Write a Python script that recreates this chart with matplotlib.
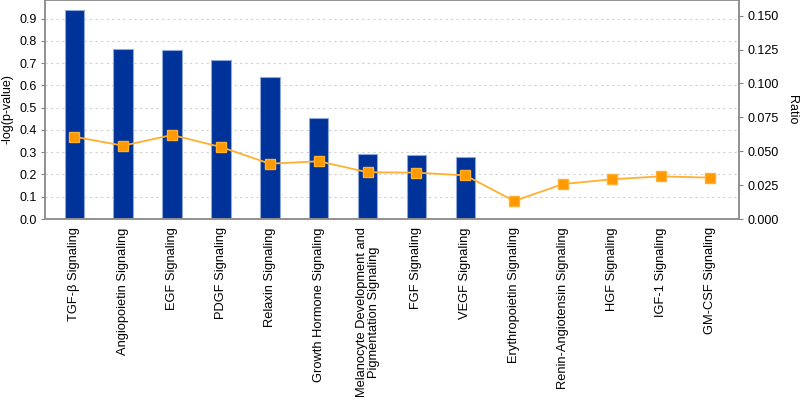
import matplotlib.pyplot as plt
import numpy as np

# categorias y valores
categorias = ["TGF-β Signaling", "Angiopoietin Signaling", "EGF Signaling",
              "PDGF Signaling", "Relaxin Signaling", "Growth Hormone Signaling",
              "Melanocyte Development and\nPigmentation Signaling", "FGF Signaling",
              "VEGF Signaling", "Erythropoietin Signaling", "Renin-Angiotensin Signaling",
              "HGF Signaling", "IGF-1 Signaling", "GM-CSF Signaling"]
log_p = [0.938, 0.762, 0.759, 0.714, 0.638, 0.452, 0.291, 0.286, 0.280,
         0, 0, 0, 0, 0]
ratio = [0.0607, 0.0541, 0.0620, 0.0531, 0.0408, 0.0426, 0.0345, 0.0342,
         0.0322, 0.0133, 0.0258, 0.0293, 0.0315, 0.0305]

plt.rcParams['font.family'] = ['Liberation Sans', 'DejaVu Sans']

fig = plt.figure(figsize=(8, 4), dpi=100)
ax = fig.add_axes([45/800, 1 - 219/400, 694/800, 219/400])
x = np.arange(len(categorias))

ax.bar(x, log_p, width=0.4, color="#003399", edgecolor="#8fa8d8", linewidth=0.8, zorder=2)
ax.set_xlim(-0.6, 13.6)
ax.set_ylim(0, 0.984)
ax.set_yticks(np.arange(0, 1.0, 0.1))
ax.set_yticklabels([f"{v:.1f}" for v in np.arange(0, 1.0, 0.1)])
ax.yaxis.grid(True, linestyle=(0, (2, 3)), color="#d0d0d0", linewidth=0.8, zorder=0)
ax.set_axisbelow(True)
ax.set_xticks(x)
ax.set_xticklabels(categorias, rotation=90, fontsize=9.3, ha="center", va="top",
                   multialignment="center", linespacing=1.0)
ax.tick_params(axis="x", length=0, pad=6)
ax.tick_params(axis="y", labelsize=9, length=3, color="#808080", pad=3)
ax.set_ylabel("-log(p-value)", fontsize=9)
ax.yaxis.set_label_coords(-31/694, 0.5)

ax2 = ax.twinx()
ax2.plot(x, ratio, color="#ffb030", linewidth=1.3, marker="s", markersize=6.5,
         markerfacecolor="#ff9900", markeredgecolor="#ffb030", zorder=3)
ax2.set_ylim(0, 0.1616)
ax2.set_yticks(np.arange(0, 0.151, 0.025))
ax2.set_yticklabels([f"{v:.3f}" for v in np.arange(0, 0.151, 0.025)])
ax2.tick_params(axis="y", labelsize=9, length=3, color="#808080", pad=3)
ax2.set_ylabel("Ratio", fontsize=9, rotation=270, va="center")
ax2.yaxis.set_label_coords(1 + 53/694, 0.5)

for a in (ax, ax2):
    for s in a.spines.values():
        s.set_color("#909090")
        s.set_linewidth(1.2)

fig.savefig("out.png", dpi=100)
